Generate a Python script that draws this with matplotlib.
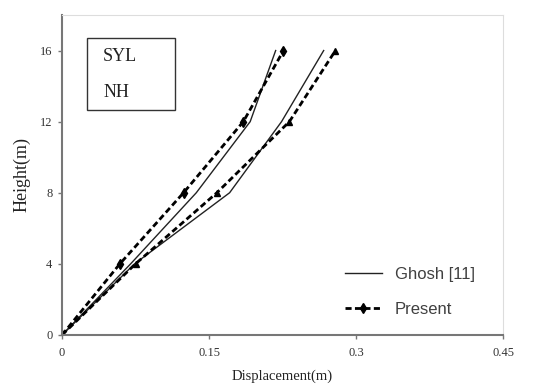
import matplotlib.pyplot as plt
from matplotlib.patches import Rectangle

# Heights (m)
heights = [0, 4, 8, 12, 16]

# Ghosh [11] - two curves
ghosh_a = [0, 0.070, 0.137, 0.192, 0.218]
ghosh_b = [0, 0.074, 0.171, 0.224, 0.267]

# Present study - two curves
present_a = [0, 0.059, 0.124, 0.185, 0.226]
present_b = [0, 0.075, 0.158, 0.232, 0.279]

xticks = [0, 0.15, 0.3, 0.45]
xtick_labels = ['0', '0.15', '0.3', '0.45']
yticks = [0, 4, 8, 12, 16]


def main():
    fig = plt.figure(figsize=(5.37, 3.85), dpi=100)
    ax = fig.add_axes([0.1155, 0.1299, 0.8212, 0.8312])

    ax.plot(ghosh_a, heights, color='#222222', lw=1.0, label='Ghosh [11]')
    ax.plot(ghosh_b, heights, color='#222222', lw=1.0)
    ax.plot(present_a, heights, color='black', lw=2.0, ls=(0, (2.2, 1.2)),
            marker='d', markersize=5, label='Present')
    ax.plot(present_b, heights, color='black', lw=2.0, ls=(0, (2.2, 1.2)),
            marker='^', markersize=4.5)

    ax.set_xlim(0, 0.45)
    ax.set_ylim(0, 18)
    ax.set_xticks(xticks)
    ax.set_xticklabels(xtick_labels)
    ax.set_yticks(yticks)

    serif = 'Liberation Serif'
    for lab in ax.get_xticklabels() + ax.get_yticklabels():
        lab.set_fontfamily(serif)
        lab.set_fontsize(9)
        lab.set_color('#333333')
    ax.tick_params(direction='out', length=3, width=1, color='#777777', pad=4)
    ax.tick_params(axis='x', pad=6)

    ax.set_xlabel('Displacement(m)', fontfamily=serif, fontsize=10.5, color='#222222', labelpad=7)
    ax.set_ylabel('Height(m)', fontfamily=serif, fontsize=13, color='#222222', labelpad=7)

    for s in ['left', 'bottom']:
        ax.spines[s].set_color('#777777')
        ax.spines[s].set_linewidth(1.5)
    for s in ['top', 'right']:
        ax.spines[s].set_color('#dddddd')
        ax.spines[s].set_linewidth(0.8)

    # SYL / NH box
    ax.add_patch(Rectangle((0.057, 0.703), 0.199, 0.225, transform=ax.transAxes,
                           fill=False, edgecolor='#333333', lw=1.0))
    ax.text(0.093, 0.869, 'SYL', transform=ax.transAxes, fontfamily=serif,
            fontsize=13, va='center', ha='left', color='#222222')
    ax.text(0.093, 0.759, 'NH', transform=ax.transAxes, fontfamily=serif,
            fontsize=13, va='center', ha='left', color='#222222')

    leg = fig.legend(loc='upper left', bbox_to_anchor=(0.6425, 0.307), frameon=False,
                     prop={'family': 'Liberation Sans', 'size': 12},
                     handlelength=2.2, handletextpad=0.8, labelspacing=1.2,
                     borderpad=0, borderaxespad=0)
    for t in leg.get_texts():
        t.set_color('#404040')

    fig.savefig('out.png', dpi=100)


if __name__ == "__main__":
    main()
